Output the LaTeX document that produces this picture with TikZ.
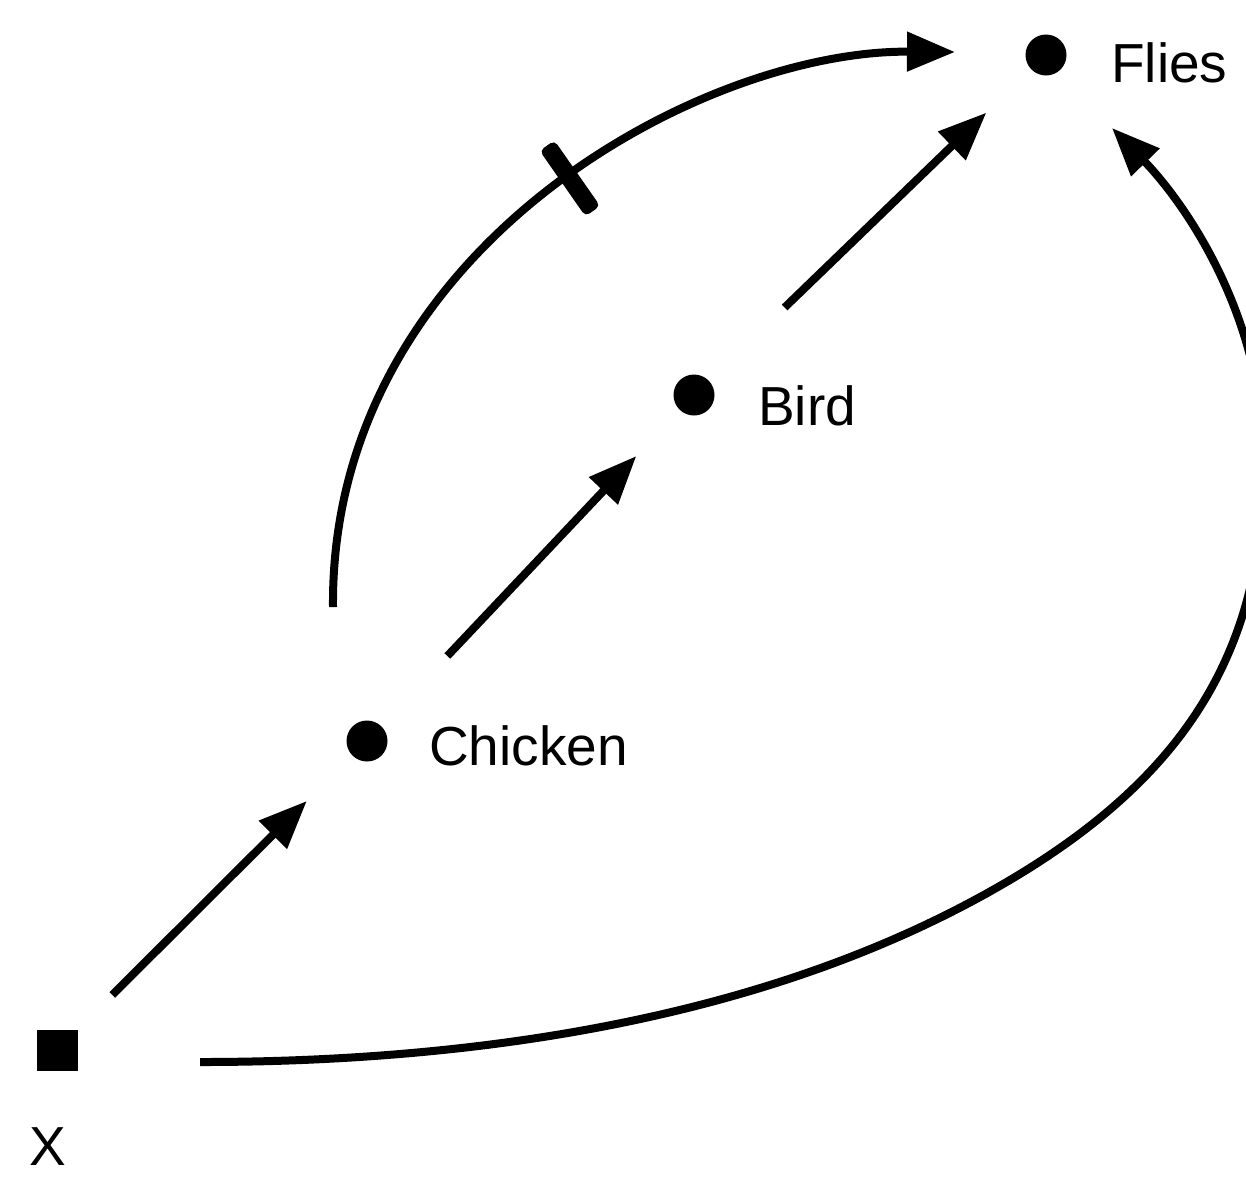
\documentclass[tikz,border=0pt]{standalone}
\usepackage{fontspec}
\setmainfont{Liberation Sans}
\usetikzlibrary{arrows.meta}
\begin{document}
\begin{tikzpicture}[x=1pt,y=-1pt,
  dot/.style={circle,fill=black,inner sep=0pt,minimum size=41pt},
  sqbox/.style={rectangle,fill=black,inner sep=0pt,minimum size=41pt},
  lbl/.style={anchor=base west,inner sep=0pt,font=\fontsize{55}{60}\selectfont},
  arr/.style={line width=8pt,-{Triangle[length=48pt,width=38pt]}},
  crossbar/.style={fill=black,rectangle,rounded corners=5pt,minimum width=18pt,minimum height=80pt,inner sep=0pt,sloped}]
\useasboundingbox (0,0) rectangle (1246,1179);
\fill[white] (0,0) rectangle (1246,1179);
% nodes
\node[sqbox] (xnode) at (57,1050) {};
\node[dot] (chicken) at (367,741) {};
\node[dot] (bird) at (694,395) {};
\node[dot] (flies) at (1046,55) {};
% labels
\node[anchor=base,inner sep=0pt,font=\fontsize{55}{60}\selectfont] (lx) at (48,1165) {X};
\node[lbl] (lchicken) at (429,765) {Chicken};
\node[lbl] (lbird) at (758,425) {Bird};
\node[lbl] (lflies) at (1111,82) {Flies};
% straight arrows
\draw[arr, shorten <=78pt, shorten >=85pt] (xnode.center) -- (chicken.center);
\draw[arr, shorten <=117pt, shorten >=84pt] (chicken.center) -- (bird.center);
\draw[arr, shorten <=126pt, shorten >=83pt] (bird.center) -- (flies.center);
% crossed curve chicken -> flies
\draw[arr] ([shift={(-34,-134)}]chicken.center) .. controls (330,250) and (700,50) .. ([shift={(-91,-3)}]flies.center) node[crossbar,pos=0.53] {};
% long curve x -> flies
\draw[arr] ([shift={(143,12)}]xnode.center) .. controls (470,1062) and (775,1021) .. (1015,877)
  .. controls (1186,774) and (1264,650) .. (1264,463)
  .. controls (1264,313) and (1182,200) .. ([shift={(66,73)}]flies.center);
\end{tikzpicture}
\end{document}
